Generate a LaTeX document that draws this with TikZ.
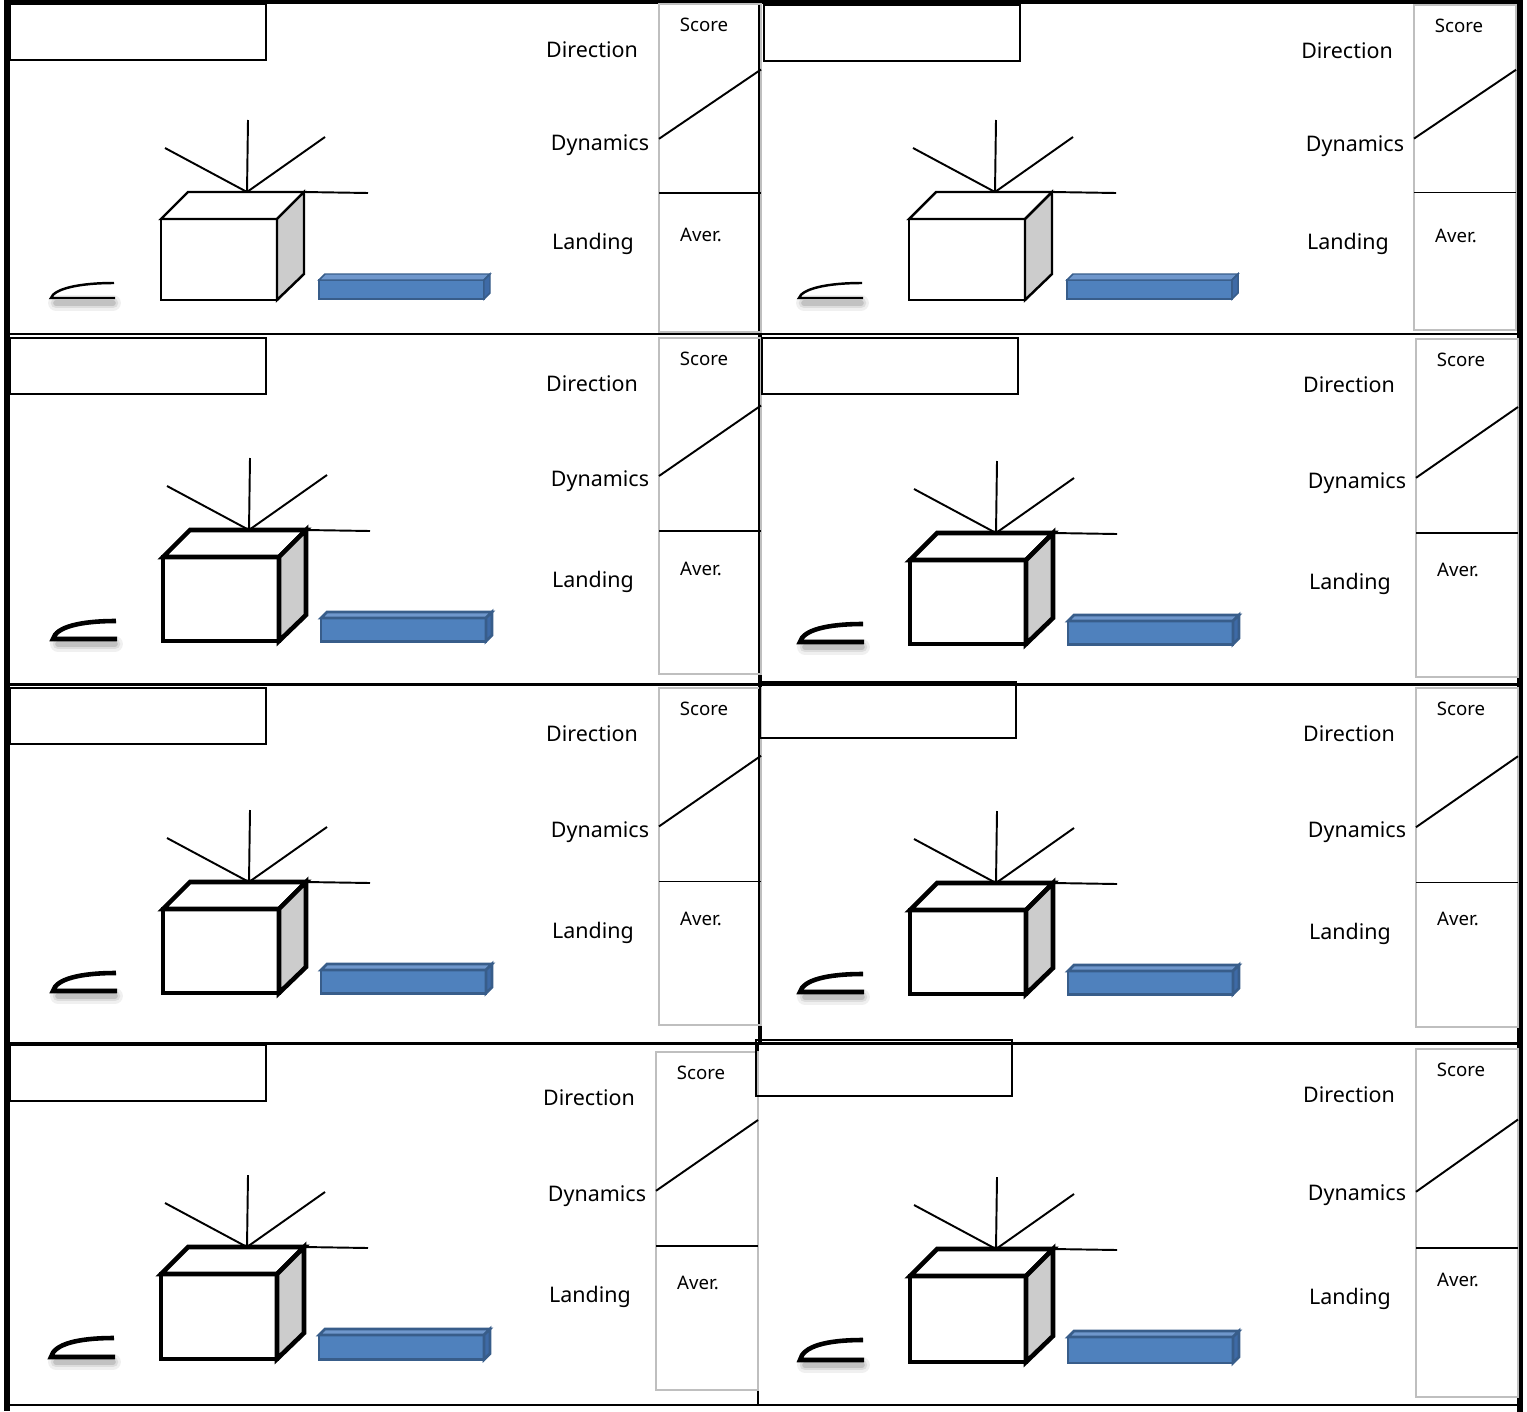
\documentclass[tikz,border=0pt]{standalone}
\usepackage{fontspec}
\setmainfont{Noto Sans}
\usepackage{tikz}

\definecolor{barblue}{HTML}{4F81BD}
\definecolor{bartop}{HTML}{6F97CC}
\definecolor{barside}{HTML}{3E6AA6}
\definecolor{baredge}{HTML}{385D8A}
\definecolor{colgray}{HTML}{BFBFBF}
\definecolor{boxgray}{HTML}{CCCCCC}

\begin{document}
\begin{tikzpicture}[x=0.01cm, y=-0.01cm,
  label/.style={font=\fontsize{6.1}{7}\selectfont, inner sep=0pt},
  tag/.style={font=\fontsize{5.3}{6}\selectfont, inner sep=0pt},
  thin line/.style={line width=0.55pt},
  frame line/.style={line width=1.7pt}]

    \useasboundingbox (0,0) rectangle (1527,1412);

    % table rulings
    \draw[frame line] (7,0) -- (7,1411);
    \draw[frame line] (1520,0) -- (1520,1412);
    \draw[line width=1.1pt] (4,2) -- (1523,2);
    \foreach \yy in {334,684,1043}
        \draw[line width=0.85pt] (7,\yy) -- (1520,\yy);
    \draw[line width=0.6pt] (7,1405) -- (1520,1405);
    \draw[line width=1.2pt] (760,2) -- (760,1043);
    \draw[line width=0.6pt] (758,1043) -- (758,1405);

    % one card per cell: table shift, column bottom, figure shift, extra height, name field shift, stroke
    \foreach \tx/\ty/\h/\fx/\fy/\s/\bx/\by/\lw [count=\i] in {
        0/0/332/0/0/0/0/0/0.7,
        755/1/329/748/0/0/754/1/0.7,
        0/334/340/2/338/3/0/334/1.3,
        757/335/342/749/341/3/752/334/1.3,
        0/684/341/2/690/3/0/684/1.3,
        757/684/343/749/691/3/750/678/1.3,
        -3/1048/342/0/1055/4/0/1041/1.3,
        757/1045/352/749/1057/5/746/1036/1.3}
    {
        % name field
        \begin{scope}[shift={(\bx,\by)}]
            \draw[thin line] (10,4) rectangle (266,60);
        \end{scope}

        % criteria and score column
        \begin{scope}[shift={(\tx,\ty)}]
            \pgfmathsetmacro\rowmid{192+(\h-330)/2}
            \pgfmathsetmacro\diagl{138+(\h-330)/2.5}
            \pgfmathsetmacro\diagr{69+(\h-330)/4}
            \node[label] (dir\i) at (592,50) {Direction};
            \node[label] (dyn\i) at (600,{145+(\h-330)/4}) {Dynamics};
            \node[label] (land\i) at (593,{243+(\h-330)/2}) {Landing};
            \draw[draw=colgray, line width=0.55pt] (659,4) rectangle (761,\h);
            \draw[thin line] (659,\rowmid) -- (761,\rowmid);
            \draw[thin line] (659,\diagl) -- (761,\diagr);
            \node[tag] (score\i) at (704,25) {Score};
            \node[tag] (aver\i) at (701,235) {Aver.};
        \end{scope}

        % box with rays, skid and bar
        \begin{scope}[shift={(\fx,\fy)}]
            \pgfmathsetmacro\bb{300+\s}
            \pgfmathsetmacro\kb{298+\s}
            \pgfmathsetmacro\barb{299+1.4*\s}
            \draw[thin line] (165,148) -- (247,192) -- (325,137);
            \draw[thin line] (248,120) -- (247,192);
            \draw[thin line] (304,192) -- (368,193);
            \draw[line width=\lw pt, fill=white] (161,219) rectangle (277,\bb);
            \draw[line width=\lw pt, fill=white] (161,219) -- (188,192) -- (304,192) -- (277,219) -- cycle;
            \draw[line width=\lw pt, fill=boxgray] (277,219) -- (304,192) -- (304,{\bb-26}) -- (277,\bb) -- cycle;
            % skid and its soft shadow
            \foreach \w/\o in {4.5/0.06, 3/0.08, 1.6/0.12}
                \draw[line width=\w pt, black, opacity=\o, line cap=round] (56,{\kb+5}) -- (113,{\kb+5});
            \draw[line width=\lw pt] (114,283) .. controls (78,283) and (54,289) .. (51,\kb) -- (115,\kb);
            % bar
            \draw[draw=baredge, line width={0.6*\lw pt}, fill=barblue] (319,280) rectangle (484,\barb);
            \draw[draw=baredge, line width={0.6*\lw pt}, fill=bartop] (319,280) -- (325,274) -- (490,274) -- (484,280) -- cycle;
            \draw[draw=baredge, line width={0.6*\lw pt}, fill=barside] (484,280) -- (490,274) -- (490,{\barb-6}) -- (484,\barb) -- cycle;
        \end{scope}
    }
\end{tikzpicture}
\end{document}
